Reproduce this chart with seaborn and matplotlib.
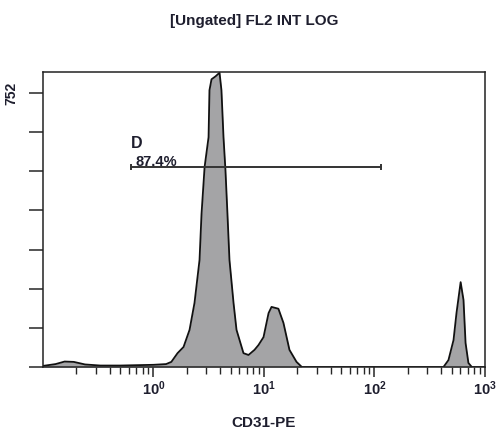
import numpy as np
import matplotlib
matplotlib.use("Agg")
import matplotlib.pyplot as plt
import seaborn as sns

# ---- data ----
cd31_pe = [0.1, 0.13, 0.157, 0.19, 0.24, 0.33, 0.5, 0.7, 1.0, 1.3, 1.45, 1.65,
           1.87, 2.12, 2.35, 2.61, 2.72, 2.90, 3.15, 3.21, 3.35, 3.64, 3.96,
           4.12, 4.30, 4.48, 4.67, 4.87, 5.30, 5.64, 6.52, 7.24, 8.2, 8.9, 9.9,
           11.0, 11.7, 13.5, 15.0, 17.0, 19.7, 22.0, 100.0, 421.0, 467.0,
           519.0, 552.0, 602.0, 639.0, 667.0, 708.0, 760.0, 1000.0]
counts = [3, 8, 15, 14, 7, 4, 4, 5, 6, 8, 14, 38,
          55, 102, 176, 294, 420, 549, 631, 760, 790, 798, 808,
          760, 631, 540, 420, 294, 176, 102, 38, 33, 47, 60, 82,
          148, 165, 160, 121, 47, 14, 0, 0, 0, 19,
          74, 148, 233, 184, 66, 11, 0, 0]
gate_x = [0.63, 115.0]
gate_y = [549, 549]
gate_name = "D"
gate_pct = "87.4%"
y_max_label = 752
title = "[Ungated] FL2 INT LOG"
xlabel = "CD31-PE"

sns.set_style("white")
plt.rcParams["font.family"] = ["Liberation Sans", "DejaVu Sans"]
plt.rcParams["font.weight"] = "bold"
plt.rcParams["mathtext.default"] = "regular"

fig = plt.figure(figsize=(5.02, 4.32), dpi=100)
ax = fig.add_axes([43 / 502, 1 - 367 / 432, 442 / 502, 295 / 432])

ax.set_xscale("log")
ax.fill_between(cd31_pe, counts, 0, color="#a4a4a6", lw=0, zorder=1)
sns.lineplot(x=cd31_pe, y=counts, ax=ax, color="#111111", lw=1.3,
             estimator=None, sort=False, zorder=2)

# gate
sns.lineplot(x=gate_x, y=gate_y, ax=ax, color="#333333", lw=1.4,
             estimator=None, sort=False, zorder=3)
ax.plot(gate_x, gate_y, ls="none", marker="|", ms=5, mew=1.4, color="#333333", zorder=3)
ax.text(0.63, 600, gate_name, fontsize=11.5, fontweight="bold",
        color="#1e1e2e", ha="left", va="baseline")
ax.text(0.69, 551, gate_pct, fontsize=10.5, fontweight="bold",
        color="#1e1e2e", ha="left", va="baseline")

ax.set_xlim(0.1, 1000)
ax.set_ylim(0, 810)

yt = np.arange(8) * y_max_label / 7
ax.set_yticks(yt)
ax.set_yticklabels([""] * 7 + [str(y_max_label)], rotation=90, va="center",
                   fontsize=10, fontweight="bold", color="#1e1e2e")
ax.set_xticks([1, 10, 100, 1000])
ax.set_xticklabels([r"$10^{0}$", r"$10^{1}$", r"$10^{2}$", r"$10^{3}$"],
                   fontsize=10.5, color="#1e1e2e")
ax.xaxis.set_minor_locator(matplotlib.ticker.LogLocator(base=10, subs=np.arange(2, 10)))
ax.xaxis.set_minor_formatter(matplotlib.ticker.NullFormatter())

ax.tick_params(axis="y", direction="out", length=10, width=1.1, pad=8, left=True)
ax.tick_params(axis="x", which="major", direction="out", length=7, width=1.1, pad=2, bottom=True)
ax.tick_params(axis="x", which="minor", direction="out", length=5, width=1.0, bottom=True)

for s in ax.spines.values():
    s.set_linewidth(1.1)
    s.set_color("#222222")
    s.set_visible(True)

ax.set_xlabel(xlabel, fontsize=11, fontweight="bold", color="#1e1e2e", labelpad=13)
ax.set_ylabel("")
fig.text(254 / 502, 1 - 21 / 432, title, fontsize=11, fontweight="bold",
         color="#1e1e2e", ha="center", va="center")

fig.savefig("out.png", dpi=100)
